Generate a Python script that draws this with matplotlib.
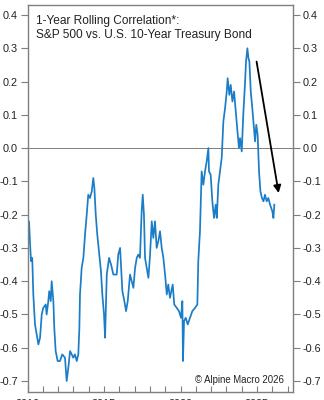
import matplotlib
matplotlib.use("Agg")
import matplotlib.pyplot as plt

plt.rcParams['font.family'] = ['Liberation Sans', 'DejaVu Sans']
plt.rcParams['axes.unicode_minus'] = False

# values (fractional years, correlation)
years = [2010.01, 2010.10, 2010.16, 2010.23, 2010.31, 2010.38, 2010.49, 2010.60, 2010.71, 2010.82,
         2010.93, 2011.03, 2011.19, 2011.25, 2011.36, 2011.42, 2011.52, 2011.58, 2011.69, 2011.75,
         2011.84, 2011.97, 2012.12, 2012.27, 2012.45, 2012.56, 2012.67, 2012.78, 2012.89, 2012.99,
         2013.10, 2013.22, 2013.32, 2013.39, 2013.43, 2013.54, 2013.65, 2013.76, 2013.87, 2013.97,
         2014.08, 2014.20, 2014.30, 2014.37, 2014.46, 2014.56, 2014.67, 2014.80, 2014.89, 2015.00,
         2015.07, 2015.18, 2015.33, 2015.46, 2015.61, 2015.83, 2015.93, 2016.05, 2016.11, 2016.20,
         2016.33, 2016.44, 2016.55, 2016.70, 2016.81, 2016.92, 2017.03, 2017.14, 2017.24, 2017.35,
         2017.46, 2017.53, 2017.61, 2017.68, 2017.79, 2017.90, 2018.01, 2018.12, 2018.22, 2018.33,
         2018.44, 2018.55, 2018.66, 2018.77, 2018.88, 2018.99, 2019.10, 2019.20, 2019.31, 2019.49,
         2019.59, 2019.75, 2019.90, 2020.03, 2020.12, 2020.16, 2020.23, 2020.34, 2020.47, 2020.62,
         2020.77, 2020.95, 2021.10, 2021.16, 2021.27, 2021.38, 2021.49, 2021.60, 2021.71, 2021.82,
         2021.86, 2021.97, 2022.08, 2022.19, 2022.30, 2022.37, 2022.47, 2022.58, 2022.69, 2022.80,
         2022.91, 2023.02, 2023.08, 2023.19, 2023.28, 2023.39, 2023.50, 2023.61, 2023.74, 2023.82,
         2023.89, 2024.00, 2024.10, 2024.22, 2024.28, 2024.37, 2024.44, 2024.50, 2024.59, 2024.69,
         2024.80, 2024.87, 2024.95, 2025.04, 2025.13, 2025.22, 2025.32, 2025.42, 2025.52, 2025.63,
         2025.74, 2025.85, 2026.00, 2026.07, 2026.13]
corr = [-0.25, -0.22, -0.28, -0.34, -0.33, -0.44, -0.53, -0.56, -0.59, -0.57,
        -0.50, -0.48, -0.47, -0.50, -0.46, -0.43, -0.46, -0.40, -0.46, -0.54,
        -0.61, -0.64, -0.64, -0.62, -0.63, -0.70, -0.66, -0.61, -0.62, -0.63,
        -0.62, -0.64, -0.62, -0.54, -0.44, -0.36, -0.33, -0.26, -0.20, -0.14,
        -0.15, -0.13, -0.09, -0.12, -0.20, -0.26, -0.31, -0.37, -0.44, -0.50,
        -0.57, -0.38, -0.33, -0.35, -0.38, -0.38, -0.32, -0.30, -0.35, -0.43,
        -0.46, -0.49, -0.46, -0.38, -0.40, -0.42, -0.36, -0.33, -0.32, -0.33,
        -0.19, -0.14, -0.20, -0.33, -0.36, -0.39, -0.32, -0.22, -0.27, -0.22,
        -0.30, -0.28, -0.25, -0.30, -0.33, -0.38, -0.44, -0.41, -0.45, -0.41,
        -0.47, -0.48, -0.49, -0.51, -0.46, -0.64, -0.52, -0.51, -0.53, -0.51,
        -0.49, -0.48, -0.47, -0.34, -0.25, -0.07, -0.11, -0.07, -0.04, 0.00,
        -0.07, -0.08, -0.16, -0.21, -0.17, -0.21, -0.11, -0.07, -0.03, 0.08,
        0.12, 0.17, 0.21, 0.16, 0.19, 0.14, 0.17, 0.11, 0.04, 0.00,
        0.03, -0.01, 0.10, 0.20, 0.26, 0.30, 0.27, 0.26, 0.17, 0.12,
        0.06, 0.02, 0.07, 0.04, -0.07, -0.13, -0.15, -0.16, -0.14, -0.16,
        -0.15, -0.17, -0.19, -0.21, -0.17]

title = "1-Year Rolling Correlation*:\nS&P 500 vs. U.S. 10-Year Treasury Bond"
credit = "\u00a9 Alpine Macro 2026"
yticks = [0.4, 0.3, 0.2, 0.1, 0.0, -0.1, -0.2, -0.3, -0.4, -0.5, -0.6, -0.7]
xticks = [2010, 2015, 2020, 2025]
arrow_from = (2024.97, 0.26)
arrow_to = (2026.41, -0.135)

gray = '#7f7f7f'
fig = plt.figure(figsize=(3.24, 4.0), dpi=100)
ax = fig.add_axes([27.5 / 324, 8 / 400, 265.5 / 324, 387 / 400])

ax.plot(years, corr, color='#1b7dc8', lw=1.25)
ax.axhline(0, color=gray, lw=0.7, zorder=0)

ax.set_xlim(2010, 2027.35)
ax.set_ylim(-0.733, 0.43)

ax.set_yticks(yticks)
ax.set_yticklabels([f"{v:.1f}" for v in yticks])
ax.set_xticks(xticks)
ax.set_xticklabels([str(x) for x in xticks])
ax.set_xticks(range(2010, 2028), minor=True)

ax.tick_params(axis='y', which='both', left=True, right=True, labelleft=True, labelright=True,
               direction='out', length=5, width=0.8, color=gray, labelsize=7.8, pad=2,
               labelcolor='#222222')
ax.tick_params(axis='x', which='both', direction='in', length=4, width=0.8, color=gray,
               labelsize=7.8, labelcolor='#222222', pad=5)
for s in ax.spines.values():
    s.set_color(gray)
    s.set_linewidth(1.0)

ax.text(0.032, 0.975, title, transform=ax.transAxes, ha='left', va='top',
        fontsize=8.6, color='#222222', linespacing=1.3)
ax.text(0.965, 0.03, credit, transform=ax.transAxes, ha='right', va='center',
        fontsize=6.9, color='#222222')

ax.annotate('', xy=arrow_to, xytext=arrow_from,
            arrowprops=dict(arrowstyle='-|>', color='black', lw=1.3, mutation_scale=11,
                            shrinkA=0, shrinkB=0))

fig.savefig('out.png', dpi=100)
